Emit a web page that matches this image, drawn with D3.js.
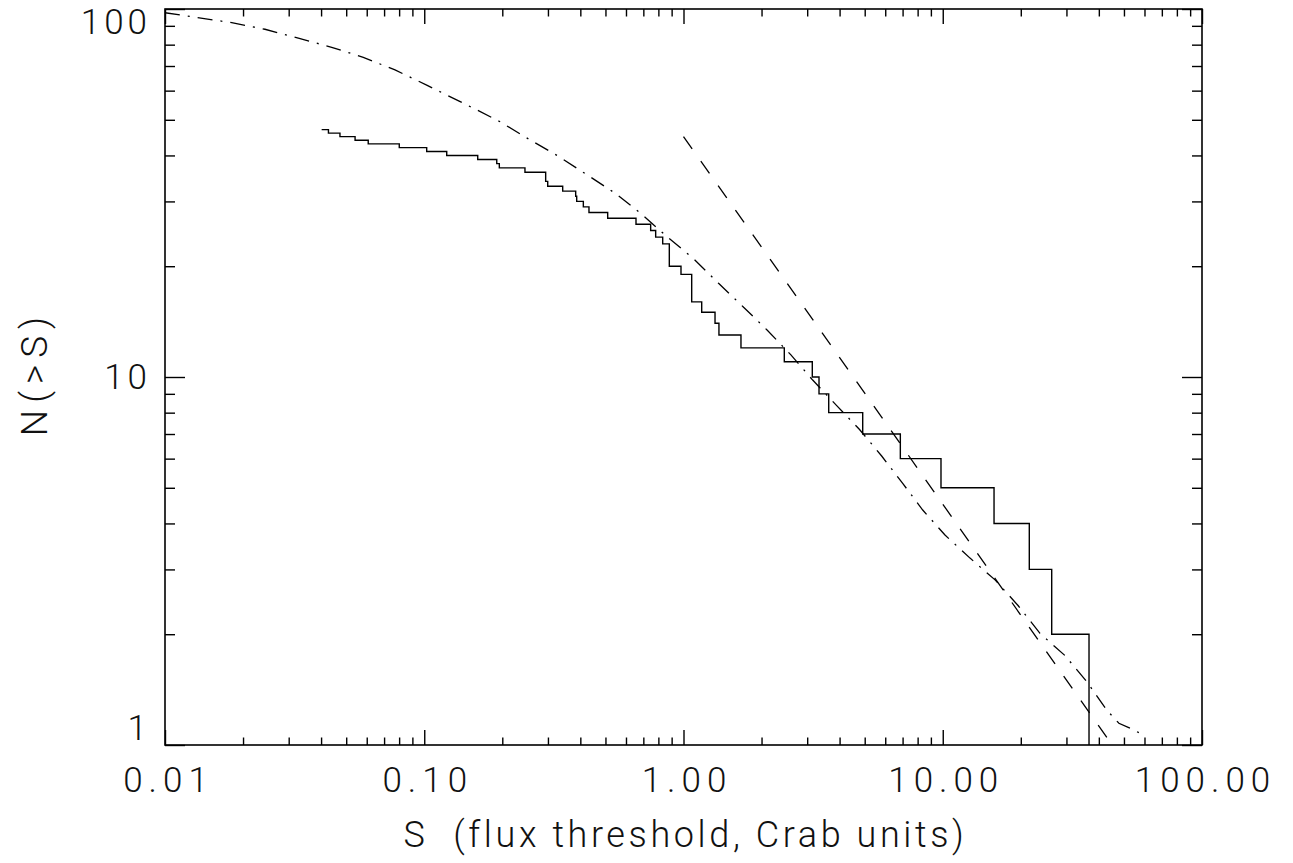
<!DOCTYPE html>
<html>
<head>
<meta charset="utf-8">
<script src="https://cdn.jsdelivr.net/npm/d3@7"></script>
<style>
  body { margin: 0; background: #fff; }
  text { font-family: Roboto, 'Liberation Sans', sans-serif; font-weight: 300; fill: #111; }
</style>
</head>
<body>
<div id="chart"></div>
<script>
// observed counts: flux where N(>S) drops, and the level right after it
var stepFlux = [0.0402, 0.0427, 0.0473, 0.0541, 0.0608, 0.0801, 0.1022, 0.1221, 0.1608, 0.1904,
    0.1948, 0.2446, 0.294, 0.2994, 0.342, 0.3838, 0.3873, 0.4108, 0.4319, 0.51,
    0.6558, 0.747, 0.781, 0.8313, 0.8816, 0.978, 1.0755, 1.1755, 1.3231, 1.37,
    1.666, 2.448, 3.139, 3.332, 3.632, 4.912, 6.861, 9.845, 15.77, 21.57, 26.32, 36.66];
var stepCount = [47, 46, 45, 44, 43, 42, 41, 40, 39, 38,
    37, 36, 34, 33, 32, 31, 30, 29, 28, 27,
    26, 25, 24, 23, 20, 19, 16, 15, 14, 13,
    12, 11, 10, 9, 8, 7, 6, 5, 4, 3, 2, 1];

// power law (dashed)
var powerFlux = [1.0, 5.09, 45.0];
var powerCount = [45.0, 8.88, 1.0];

// model curve (dash dot)
var modelFlux = [0.01, 0.01194, 0.01809, 0.0243, 0.03267, 0.04395, 0.05819, 0.07714, 0.1022, 0.1594,
    0.196, 0.2557, 0.3311, 0.4255, 0.5443, 0.69, 0.8614, 1.091, 1.362, 1.701,
    2.105, 2.591, 3.15, 3.899, 4.766, 5.813, 7.007, 8.37, 10.2, 12.74,
    15.91, 19.56, 23.72, 29.62, 36.11, 42.9, 47.8, 54.0, 60.3];
var modelCount = [97.7, 95.9, 91.8, 88.1, 83.3, 78.7, 73.9, 68.3, 62.1, 53.2,
    49.4, 44.1, 39.7, 35.4, 31.6, 27.7, 24.1, 21.0, 18.0, 15.5,
    13.4, 11.5, 9.81, 8.36, 7.21, 6.10, 5.14, 4.35, 3.72, 3.22,
    2.81, 2.39, 2.01, 1.75, 1.48, 1.245, 1.146, 1.103, 1.058];

// axis ticks and labels
var xMajor = [0.01, 0.1, 1, 10, 100];
var xLabels = ['0.01', '0.10', '1.00', '10.00', '100.00'];
var yMajor = [1, 10, 100];
var yLabels = ['1', '10', '100'];

var width = 1293, height = 863;
var plotLeft = 165, plotRight = 1202, plotTop = 9, plotBottom = 745;

var svg = d3.select('#chart')
    .append('svg')
    .attr('width', width)
    .attr('height', height)
    .style('background', '#fff');

var xScale = d3.scaleLog().domain([0.01, 100]).range([plotLeft, plotRight]);
var yScale = d3.scaleLog().domain([1, 100]).range([plotBottom, plotTop]);

// minor ticks 2..9 in each decade
var xMinor = [], yMinor = [];
[0.01, 0.1, 1, 10].forEach(d => d3.range(2, 10).forEach(m => xMinor.push(d * m)));
[1, 10].forEach(d => d3.range(2, 10).forEach(m => yMinor.push(d * m)));

function drawAxis(axis, tx, ty) {
    var g = svg.append('g').attr('transform', `translate(${tx},${ty})`).call(axis);
    g.select('.domain').remove();
    g.selectAll('line').attr('stroke', '#000').attr('stroke-width', 1.4);
    return g;
}

// bottom
var xb = drawAxis(d3.axisBottom(xScale).tickValues(xMajor).tickSizeInner(-15).tickSizeOuter(0)
    .tickPadding(22).tickFormat((d, i) => xLabels[i]), 0, plotBottom);
xb.selectAll('text').style('font-size', '35px').attr('letter-spacing', '6px').attr('dx', '3px');
drawAxis(d3.axisBottom(xScale).tickValues(xMinor).tickSizeInner(-7.5).tickSizeOuter(0).tickFormat(''), 0, plotBottom);
// top
drawAxis(d3.axisTop(xScale).tickValues(xMajor).tickSizeInner(-15).tickSizeOuter(0).tickFormat(''), 0, plotTop);
drawAxis(d3.axisTop(xScale).tickValues(xMinor).tickSizeInner(-7.5).tickSizeOuter(0).tickFormat(''), 0, plotTop);
// left
var yl = drawAxis(d3.axisLeft(yScale).tickValues(yMajor).tickSizeInner(-20).tickSizeOuter(0)
    .tickPadding(18).tickFormat((d, i) => yLabels[i]), plotLeft, 0);
yl.selectAll('text').style('font-size', '35px').attr('letter-spacing', '4px')
    .attr('dx', '4px')
    .attr('dy', d => d === 1 ? '-0.32em' : '0.32em')
    .attr('y', d => d === 100 ? 13 : d === 1 ? 6 : 0);
drawAxis(d3.axisLeft(yScale).tickValues(yMinor).tickSizeInner(-10).tickSizeOuter(0).tickFormat(''), plotLeft, 0);
// right
drawAxis(d3.axisRight(yScale).tickValues(yMajor).tickSizeInner(-20).tickSizeOuter(0).tickFormat(''), plotRight, 0);
drawAxis(d3.axisRight(yScale).tickValues(yMinor).tickSizeInner(-10).tickSizeOuter(0).tickFormat(''), plotRight, 0);

// frame
svg.append('rect')
    .attr('x', plotLeft).attr('y', plotTop)
    .attr('width', plotRight - plotLeft).attr('height', plotBottom - plotTop)
    .attr('fill', 'none').attr('stroke', '#000').attr('stroke-width', 1.6);

// clip to the plot box
svg.append('clipPath').attr('id', 'box')
    .append('rect')
    .attr('x', plotLeft).attr('y', plotTop)
    .attr('width', plotRight - plotLeft).attr('height', plotBottom - plotTop);

var curves = svg.append('g').attr('clip-path', 'url(#box)');

var line = d3.line().x(d => xScale(d[0])).y(d => yScale(d[1]));

curves.append('path')
    .datum(stepFlux.map((s, i) => [s, stepCount[i]]))
    .attr('d', line.curve(d3.curveStepAfter))
    .attr('fill', 'none').attr('stroke', '#000').attr('stroke-width', 1.4);

curves.append('path')
    .datum(powerFlux.map((s, i) => [s, powerCount[i]]))
    .attr('d', d3.line().x(d => xScale(d[0])).y(d => yScale(d[1])))
    .attr('fill', 'none').attr('stroke', '#000').attr('stroke-width', 1.3)
    .attr('stroke-dasharray', '15,15');

curves.append('path')
    .datum(modelFlux.map((s, i) => [s, modelCount[i]]))
    .attr('d', d3.line().x(d => xScale(d[0])).y(d => yScale(d[1])))
    .attr('fill', 'none').attr('stroke', '#000').attr('stroke-width', 1.3)
    .attr('stroke-dasharray', '15,8,2,8');

// axis titles
svg.append('text')
    .attr('x', (plotLeft + plotRight) / 2 + 2)
    .attr('y', 847)
    .attr('text-anchor', 'middle')
    .style('font-size', '36px')
    .style('white-space', 'pre')
    .attr('letter-spacing', '3.6px')
    .text('S  (flux threshold, Crab units)');

svg.append('text')
    .attr('transform', `translate(47,${(plotTop + plotBottom) / 2 - 4})rotate(-90)`)
    .attr('text-anchor', 'middle')
    .style('font-size', '37px')
    .attr('letter-spacing', '7px')
    .text('N(>S)');
</script>
</body>
</html>
